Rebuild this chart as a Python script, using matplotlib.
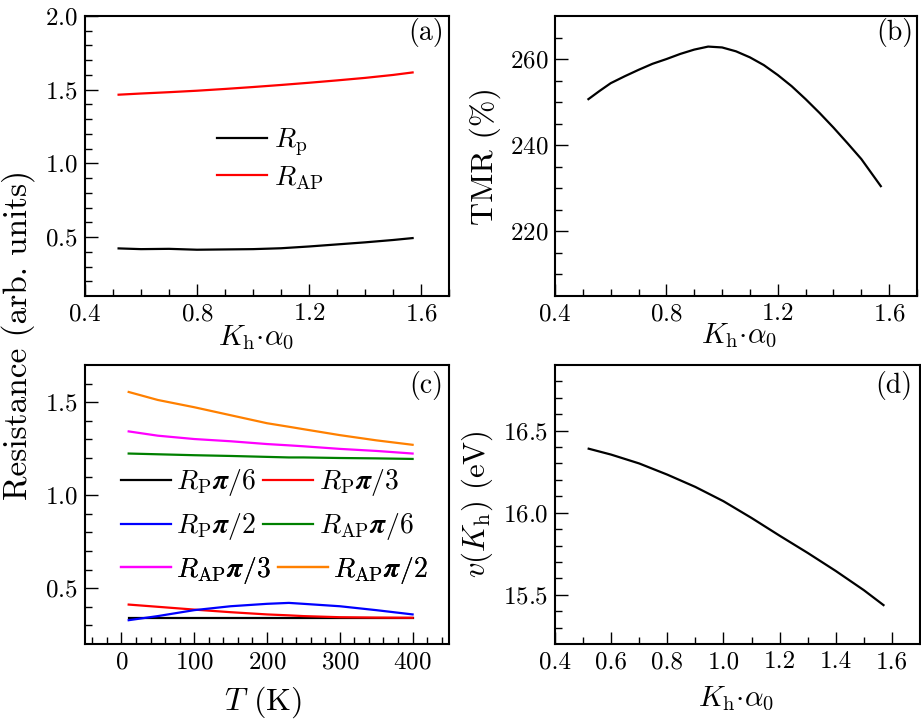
import numpy as np
import matplotlib
matplotlib.use("Agg")
import matplotlib.pyplot as plt

# ---- data ----
# (a) resistance vs Kh*a0
ka_a = [0.52, 0.6, 0.7, 0.8, 0.9, 1.0, 1.1, 1.2, 1.3, 1.4, 1.5, 1.57]
r_p_a = [0.423, 0.418, 0.42, 0.414, 0.416, 0.418, 0.424, 0.436, 0.45, 0.464, 0.48, 0.493]
r_ap_a = [1.466, 1.474, 1.483, 1.493, 1.505, 1.518, 1.532, 1.547, 1.563, 1.58, 1.6, 1.617]

# (b) TMR vs Kh*a0
ka_b = [0.52, 0.56, 0.6, 0.65, 0.7, 0.75, 0.8, 0.85, 0.9, 0.95, 1.0, 1.05, 1.1,
        1.15, 1.2, 1.25, 1.3, 1.35, 1.4, 1.45, 1.5, 1.57]
tmr = [250.7, 252.6, 254.4, 256.0, 257.5, 258.9, 260.0, 261.2, 262.2, 262.9, 262.7,
       261.8, 260.4, 258.6, 256.3, 253.7, 250.7, 247.5, 244.1, 240.5, 236.8, 230.5]

# (c) resistance vs temperature
temp = [10, 50, 100, 150, 200, 230, 250, 300, 350, 400]
rp_pi6 = [0.34, 0.34, 0.34, 0.34, 0.34, 0.34, 0.34, 0.34, 0.34, 0.34]
rp_pi3 = [0.412, 0.400, 0.385, 0.371, 0.359, 0.354, 0.350, 0.344, 0.342, 0.341]
rp_pi2 = [0.328, 0.350, 0.382, 0.403, 0.416, 0.421, 0.416, 0.403, 0.382, 0.359]
rap_pi6 = [1.224, 1.220, 1.215, 1.211, 1.206, 1.203, 1.203, 1.200, 1.198, 1.195]
rap_pi3 = [1.343, 1.320, 1.302, 1.290, 1.275, 1.268, 1.263, 1.249, 1.238, 1.224]
rap_pi2 = [1.555, 1.512, 1.473, 1.430, 1.387, 1.368, 1.355, 1.323, 1.295, 1.271]

# (d) v(Kh) vs Kh*a0
ka_d = [0.52, 0.6, 0.7, 0.8, 0.9, 1.0, 1.1, 1.2, 1.3, 1.4, 1.5, 1.57]
v_kh = [16.39, 16.354, 16.30, 16.232, 16.157, 16.07, 15.968, 15.86, 15.755, 15.645, 15.528, 15.437]

# ---- style ----
plt.rcParams['font.family'] = 'serif'
plt.rcParams['font.serif'] = ['cmr10', 'DejaVu Serif']
plt.rcParams['mathtext.fontset'] = 'cm'
plt.rcParams['axes.formatter.use_mathtext'] = True
plt.rcParams['font.size'] = 18
plt.rcParams['axes.linewidth'] = 1.5

W, H = 921, 721
fig = plt.figure(figsize=(W / 100, H / 100), dpi=100)


def add_ax(l, r, t, b):
    return fig.add_axes([l / W, 1 - b / H, (r - l) / W, (b - t) / H])


ax_a = add_ax(85, 449, 16, 296)
ax_b = add_ax(555, 917, 16, 296)
ax_c = add_ax(85, 449, 365, 644)
ax_d = add_ax(555, 920, 365, 644)

for ax in (ax_a, ax_b, ax_c, ax_d):
    ax.tick_params(which='both', direction='in', top=False, right=False,
                   labelsize=18, pad=5)
    ax.tick_params(which='major', length=9, width=1.0)
    ax.tick_params(which='minor', length=5, width=1.0)

klabel = r'$K_{\rm h}{\cdot}\alpha_0$'
lw = 1.6
lab_fs = 23
k_fs = 21
panel_fs = 20

# (a)
ax_a.plot(ka_a, r_p_a, color='black', lw=lw, label=r'$R_{\rm p}$')
ax_a.plot(ka_a, r_ap_a, color='red', lw=lw, label=r'$R_{\rm AP}$')
ax_a.set_xlim(0.4, 1.7)
ax_a.set_ylim(0.1, 2.0)
ax_a.set_xticks([0.4, 0.8, 1.2, 1.6])
ax_a.set_xticks(np.arange(0.5, 1.71, 0.1), minor=True)
ax_a.set_yticks([0.5, 1.0, 1.5, 2.0])
ax_a.set_yticks(np.arange(0.2, 2.0, 0.1), minor=True)
ax_a.set_xlabel(klabel, fontsize=k_fs)
ax_a.xaxis.set_label_coords(0.47, -0.1)
ax_a.legend(loc='center left', bbox_to_anchor=(0.363, 0.488), frameon=False,
            borderpad=0, borderaxespad=0, handlelength=1.8, handletextpad=0.25,
            labelspacing=0.2, fontsize=20)
ax_a.text(0.985, 0.94, '(a)', transform=ax_a.transAxes, ha='right', va='center',
          fontsize=panel_fs)

# (b)
ax_b.plot(ka_b, tmr, color='black', lw=lw)
ax_b.set_xlim(0.4, 1.7)
ax_b.set_ylim(205, 270)
ax_b.set_xticks([0.4, 0.8, 1.2, 1.6])
ax_b.set_xticks(np.arange(0.5, 1.71, 0.1), minor=True)
ax_b.set_yticks([220, 240, 260])
ax_b.set_yticks(np.arange(210, 270, 5), minor=True)
ax_b.set_xlabel(klabel, fontsize=k_fs)
ax_b.xaxis.set_label_coords(0.508, -0.093)
ax_b.set_ylabel('TMR (%)', fontsize=lab_fs)
ax_b.yaxis.set_label_coords(-0.148, 0.5)
ax_b.text(0.989, 0.94, '(b)', transform=ax_b.transAxes, ha='right', va='center',
          fontsize=panel_fs)

# (c)
series_c = [
    (rp_pi6, 'black', r'$R_{\rm P}\boldsymbol{\pi}/6$'),
    (rp_pi3, 'red', r'$R_{\rm P}\boldsymbol{\pi}/3$'),
    (rp_pi2, 'blue', r'$R_{\rm P}\boldsymbol{\pi}/2$'),
    (rap_pi6, '#008000', r'$R_{\rm AP}\boldsymbol{\pi}/6$'),
    (rap_pi3, 'magenta', r'$R_{\rm AP}\boldsymbol{\pi}/3$'),
    (rap_pi2, '#FF8000', r'$R_{\rm AP}\boldsymbol{\pi}/2$'),
]
handles = []
for vals, col, lab in series_c:
    h, = ax_c.plot(temp, vals, color=col, lw=lw, label=lab)
    handles.append(h)
ax_c.set_xlim(-50, 450)
ax_c.set_ylim(0.2, 1.7)
ax_c.set_xticks([0, 100, 200, 300, 400])
ax_c.set_xticks(np.arange(-40, 450, 20), minor=True)
ax_c.set_yticks([0.5, 1.0, 1.5])
ax_c.set_yticks(np.arange(0.3, 1.7, 0.1), minor=True)
ax_c.set_xlabel(r'$T$ (K)', fontsize=lab_fs)
ax_c.xaxis.set_label_coords(0.49, -0.145)
# one legend per row, like the original
row_y = [0.578, 0.420, 0.263]
for i, y in enumerate(row_y):
    hs = handles[2 * i:2 * i + 2]
    leg = ax_c.legend(handles=hs, labels=[h.get_label() for h in hs], ncol=2,
                      loc='center left', bbox_to_anchor=(0.098, y), frameon=False,
                      borderpad=0, borderaxespad=0, handlelength=1.8,
                      handletextpad=0.2, columnspacing=0.25, fontsize=20)
    ax_c.add_artist(leg)
ax_c.text(0.985, 0.928, '(c)', transform=ax_c.transAxes, ha='right', va='center',
          fontsize=panel_fs)

# (d)
ax_d.plot(ka_d, v_kh, color='black', lw=lw)
ax_d.set_xlim(0.4, 1.7)
ax_d.set_ylim(15.2, 16.9)
ax_d.set_xticks(np.arange(0.4, 1.61, 0.2))
ax_d.set_xticks(np.arange(0.5, 1.71, 0.1), minor=True)
ax_d.xaxis.set_major_formatter(matplotlib.ticker.FormatStrFormatter('%.1f'))
ax_d.set_yticks([15.5, 16.0, 16.5])
ax_d.set_yticks(np.arange(15.3, 16.9, 0.1), minor=True)
ax_d.set_xlabel(klabel, fontsize=k_fs)
ax_d.xaxis.set_label_coords(0.496, -0.145)
ax_d.set_ylabel(r'$v(K_{\rm h})$ (eV)', fontsize=22)
ax_d.yaxis.set_label_coords(-0.165, 0.5)
ax_d.text(0.98, 0.928, '(d)', transform=ax_d.transAxes, ha='right', va='center',
          fontsize=panel_fs)

# shared y label for left column
fig.text(18 / W, 1 - 335 / H, 'Resistance (arb. units)', rotation=90,
         ha='center', va='center', fontsize=24)

fig.savefig('out.png', dpi=100)
